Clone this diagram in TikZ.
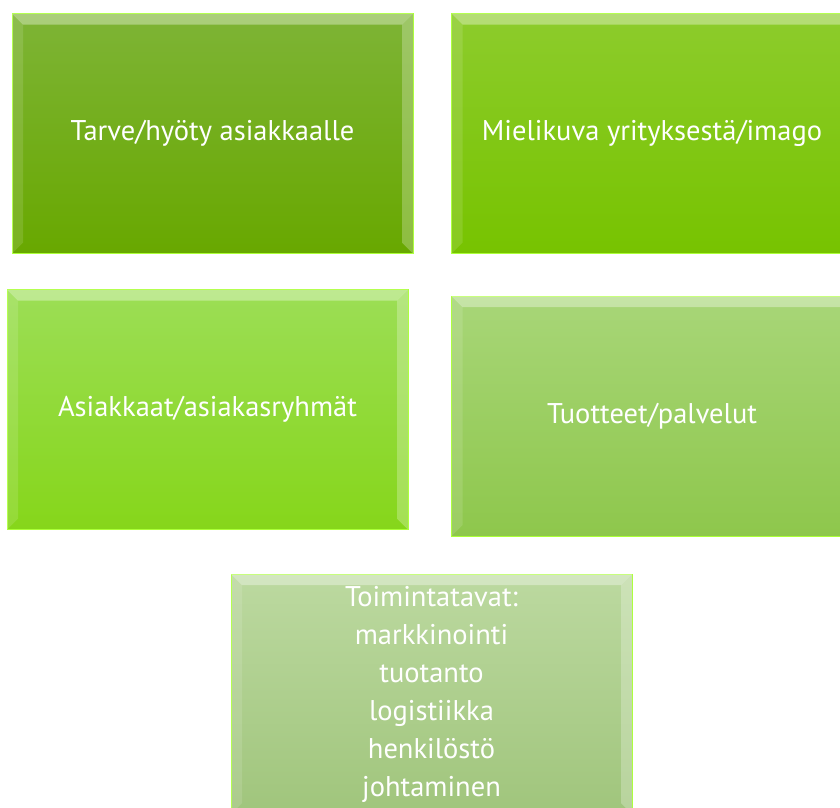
\documentclass[tikz,border=0pt]{standalone}
\usepackage{fontspec}
\setmainfont{PT Sans}
\usepackage{tikz}

\definecolor{gOneTop}{HTML}{7EB436}
\definecolor{gOneBot}{HTML}{68A800}
\definecolor{gTwoTop}{HTML}{8DCC2C}
\definecolor{gTwoBot}{HTML}{77C300}
\definecolor{gThreeTop}{HTML}{9CDE56}
\definecolor{gThreeBot}{HTML}{86D61A}
\definecolor{gFourTop}{HTML}{A8D678}
\definecolor{gFourBot}{HTML}{8EC74C}
\definecolor{gFiveTop}{HTML}{BCD9A0}
\definecolor{gFiveBot}{HTML}{A0C57C}

\begin{document}
\begin{tikzpicture}[x=1pt, y=-1pt, every node/.style={font={\fontsize{28.5}{38}\selectfont}, text=white},
	card/.style={rectangle, minimum width=401pt, minimum height=240pt, inner sep=0pt, outer sep=0pt, align=center, draw=white!55!green!40!lime, line width=0.6pt}]
	\useasboundingbox (0,0) rectangle (840,807);
	\node[card, top color=gOneTop, bottom color=gOneBot] (need) at (212.5,133.5) {Tarve/hyöty asiakkaalle};
	\node[card, top color=gTwoTop, bottom color=gTwoBot] (image) at (652,133.5) {Mielikuva yrityksestä/imago};
	\node[card, top color=gThreeTop, bottom color=gThreeBot] (groups) at (207.5,409.5) {Asiakkaat/asiakasryhmät};
	\node[card, top color=gFourTop, bottom color=gFourBot] (offer) at (652,416) {Tuotteet/palvelut};
	\node[card, top color=gFiveTop, bottom color=gFiveBot] (ways) at (431.5,694) {Toimintatavat:\\markkinointi\\tuotanto\\logistiikka\\henkilöstö\\johtaminen};
	% bevel edges
	\foreach \n in {need,image,groups,offer,ways} {
		\fill[white, opacity=.35] (\n.north west) -- (\n.north east) -- ([shift={(-11,11)}]\n.north east) -- ([shift={(11,11)}]\n.north west) -- cycle;
		\fill[white, opacity=.12] (\n.north west) -- ([shift={(11,11)}]\n.north west) -- ([shift={(11,-11)}]\n.south west) -- (\n.south west) -- cycle;
		\fill[white, opacity=.25] (\n.north east) -- ([shift={(-11,11)}]\n.north east) -- ([shift={(-11,-11)}]\n.south east) -- (\n.south east) -- cycle;
	}
\end{tikzpicture}
\end{document}
